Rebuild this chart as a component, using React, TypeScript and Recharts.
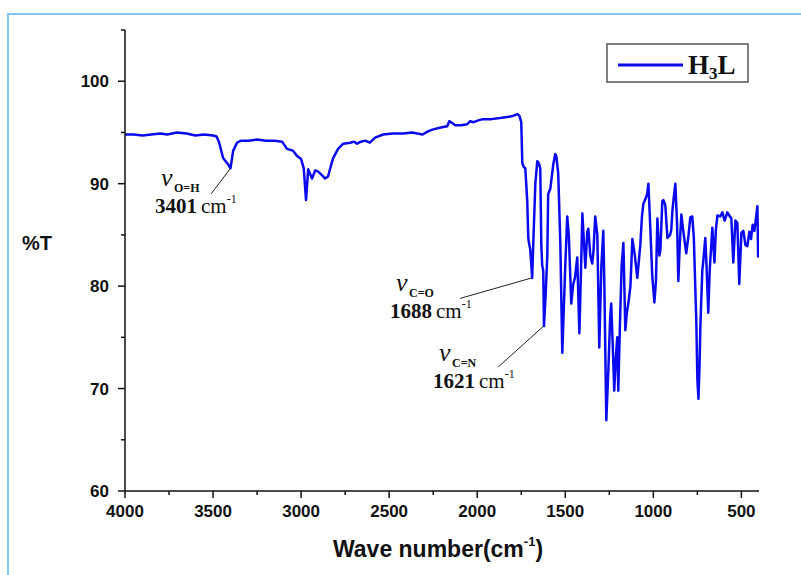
import React from 'react'
import { LineChart, Line, XAxis, YAxis, ReferenceLine } from 'recharts'

// FT-IR spectrum of H3L
const wnHigh = [4000, 3950, 3900, 3850, 3800, 3760, 3705, 3650, 3600, 3550, 3500, 3480, 3465, 3443, 3415, 3401, 3386, 3364, 3340, 3300, 3250, 3200, 3150, 3108]
const tHigh = [94.8, 94.8, 94.7, 94.8, 94.9, 94.8, 95.0, 94.9, 94.7, 94.8, 94.7, 94.6, 94.0, 92.5, 91.9, 91.5, 93.2, 94.0, 94.2, 94.2, 94.3, 94.2, 94.2, 94.1]

const wnCH = [3080, 3060, 3045, 3023, 3000, 2985, 2972, 2960, 2945, 2938, 2920, 2905, 2892, 2875, 2864, 2847, 2830, 2818, 2790, 2761, 2720, 2700, 2682, 2660, 2636, 2610, 2580]
const tCH = [93.4, 93.3, 93.2, 92.7, 92.4, 91.5, 88.4, 91.4, 90.8, 90.5, 91.3, 91.2, 91.0, 90.7, 90.5, 90.7, 91.8, 92.5, 93.4, 93.9, 94.0, 94.1, 93.9, 94.1, 94.2, 94.0, 94.5]

const wnFlat = [2534, 2480, 2420, 2370, 2341, 2310, 2280, 2250, 2200, 2170, 2159, 2140, 2125, 2090, 2057, 2040, 2020, 1990, 1966, 1920, 1870, 1830, 1800, 1784, 1773, 1760]
const tFlat = [94.8, 94.9, 94.9, 95.0, 94.9, 94.8, 95.1, 95.3, 95.5, 95.6, 96.1, 95.9, 95.7, 95.7, 95.8, 96.1, 96.0, 96.2, 96.3, 96.3, 96.4, 96.5, 96.6, 96.7, 96.8, 96.6]

const wnCO = [1750, 1744, 1735, 1727, 1716, 1710, 1705, 1699, 1688, 1680, 1670, 1659, 1650, 1642, 1636, 1631, 1625, 1621, 1612, 1602, 1597, 1585, 1568, 1557, 1551, 1540, 1528, 1517, 1508, 1500, 1489, 1480, 1466, 1455, 1445, 1432, 1420, 1410, 1403]
const tCO = [96.0, 92.0, 91.6, 91.5, 88.3, 84.7, 84.1, 83.6, 80.8, 85.0, 90.0, 92.2, 92.0, 91.5, 84.0, 82.0, 81.5, 76.1, 79.0, 83.0, 89.0, 89.5, 91.9, 92.9, 92.7, 91.0, 84.1, 73.5, 78.0, 82.0, 86.8, 85.0, 78.3, 80.2, 80.8, 82.8, 75.4, 82.0, 87.1]

const wnMid = [1386, 1375, 1369, 1358, 1347, 1340, 1330, 1318, 1307, 1295, 1284, 1278, 1267, 1255, 1245, 1239, 1230, 1222, 1213, 1205, 1199, 1190, 1180, 1170, 1159, 1150, 1142, 1130, 1119, 1105, 1091, 1074, 1065, 1057, 1045, 1035, 1028, 1017, 1006, 994]
const tMid = [81.8, 85.3, 85.6, 83.0, 82.2, 83.4, 86.8, 85.0, 74.0, 82.0, 85.4, 80.0, 66.9, 72.0, 77.0, 78.3, 74.0, 69.8, 73.0, 75.0, 69.8, 76.0, 82.0, 84.2, 75.7, 77.5, 78.3, 80.0, 84.6, 83.0, 80.8, 84.0, 86.7, 88.0, 88.5, 89.0, 90.0, 85.6, 81.0, 78.4]

const wnLow = [985, 977, 966, 960, 949, 943, 932, 920, 905, 898, 892, 885, 875, 865, 858, 850, 841, 830, 813, 800, 790, 779, 770, 762, 756, 750, 744, 738, 733, 722, 716, 705, 698, 688, 680, 665, 653, 645, 636, 620, 608, 595, 580, 565, 557, 546, 534, 523, 512, 500, 489, 477, 466, 455, 445, 436, 426, 418, 409, 405]
const tLow = [80.5, 86.6, 83.0, 83.5, 88.3, 88.4, 87.9, 84.7, 85.0, 85.5, 87.3, 88.5, 90.0, 86.0, 80.5, 84.0, 87.0, 85.4, 83.2, 85.0, 86.7, 86.8, 84.7, 80.0, 76.6, 71.0, 69.0, 72.0, 76.0, 81.5, 82.5, 84.7, 82.0, 77.4, 81.5, 85.7, 82.3, 85.5, 86.9, 86.8, 87.2, 86.4, 87.2, 86.8, 86.6, 82.3, 86.4, 86.2, 80.2, 85.2, 85.4, 84.0, 83.9, 85.3, 84.6, 86.0, 85.4, 86.5, 87.8, 82.8]

const xTicks = [4000, 3750, 3500, 3250, 3000, 2750, 2500, 2250, 2000, 1750, 1500, 1250, 1000, 750, 500]
const yTicks = [60, 65, 70, 75, 80, 85, 90, 95, 100, 105]

const segments: [number[], number[]][] = [
  [wnHigh, tHigh],
  [wnCH, tCH],
  [wnFlat, tFlat],
  [wnCO, tCO],
  [wnMid, tMid],
  [wnLow, tLow],
]
const spectrum = segments.flatMap(([w, t]) => w.map((v, i) => ({ wn: v, t: t[i] })))

const sans = '"Liberation Sans", Arial, sans-serif'
const serif = '"Liberation Serif", "Times New Roman", serif'

const XTick = (props: any) => {
  const { x, y, payload } = props
  const major = payload.value % 500 === 0
  return (
    <g>
      <line x1={x} y1={y} x2={x} y2={y + (major ? 7 : 4)} stroke="#111" strokeWidth={1.5} />
      {major && (
        <text x={x} y={y + 26} textAnchor="middle" fontFamily={sans} fontWeight="bold" fontSize={17} fill="#111">
          {payload.value}
        </text>
      )}
    </g>
  )
}

const YTick = (props: any) => {
  const { x, y, payload } = props
  const major = payload.value % 10 === 0
  return (
    <g>
      <line x1={x - (major ? 7 : 4)} y1={y} x2={x} y2={y} stroke="#111" strokeWidth={1.5} />
      {major && payload.value <= 100 && (
        <text x={x - 16} y={y + 6} textAnchor="end" fontFamily={sans} fontWeight="bold" fontSize={17} fill="#111">
          {payload.value}
        </text>
      )}
    </g>
  )
}

const Band = ({ x, y, sub, wn }: { x: number; y: number; sub: string; wn: string }) => (
  <g fill="#111">
    <text x={x + 6} y={y} fontFamily={serif} fontStyle="italic" fontSize={26}>ν</text>
    <text x={x + 19} y={y + 6} fontFamily={serif} fontWeight="bold" fontSize={12}>{sub}</text>
    <text x={x} y={y + 27} fontFamily={serif} fontSize={21}>
      <tspan fontWeight="bold">{wn}</tspan>
      <tspan dx={4}>cm</tspan>
      <tspan fontSize={12} dy={-10}>-1</tspan>
    </text>
  </g>
)

export default function App() {
  return (
    <div style={{ position: 'absolute', left: 0, top: 0, width: 801, height: 575, background: '#fff', overflow: 'hidden' }}>
      <div style={{ position: 'absolute', left: 7, top: 13, width: 820, height: 600, borderLeft: '2px solid #86c5e8', borderTop: '2px solid #86c5e8' }} />
      <LineChart width={801} height={575} data={spectrum} margin={{ top: 30, right: 42, bottom: 44, left: 65 }}>
        <XAxis
          dataKey="wn"
          type="number"
          domain={[400, 4000]}
          reversed
          ticks={xTicks}
          interval={0}
          tick={<XTick />}
          tickLine={false}
          tickSize={0}
          tickMargin={0}
          height={40}
          axisLine={{ stroke: '#111', strokeWidth: 1.5 }}
          allowDataOverflow
        />
        <YAxis
          type="number"
          domain={[60, 105]}
          ticks={yTicks}
          interval={0}
          tick={<YTick />}
          tickLine={false}
          tickSize={0}
          tickMargin={0}
          width={60}
          axisLine={{ stroke: '#111', strokeWidth: 1.5 }}
          allowDataOverflow
        />
        <ReferenceLine segment={[{ x: 3511, y: 89.0 }, { x: 3401, y: 91.5 }]} stroke="#222" strokeWidth={1} ifOverflow="visible" />
        <ReferenceLine segment={[{ x: 2097, y: 78.8 }, { x: 1690, y: 80.8 }]} stroke="#222" strokeWidth={1} ifOverflow="visible" />
        <ReferenceLine segment={[{ x: 1881, y: 72.1 }, { x: 1623, y: 76.1 }]} stroke="#222" strokeWidth={1} ifOverflow="visible" />
        <Line dataKey="t" stroke="#0a0aee" strokeWidth={2.5} dot={false} isAnimationActive={false} strokeLinejoin="round" />
      </LineChart>
      <svg width={801} height={575} style={{ position: 'absolute', left: 0, top: 0, pointerEvents: 'none' }}>
        <text x={22} y={250} fontFamily={sans} fontWeight="bold" fontSize={20} fill="#111">%T</text>
        <text x={438} y={557} textAnchor="middle" fontFamily={sans} fontWeight="bold" fontSize={23} fill="#111">
          Wave number(cm<tspan fontSize={13} dy={-11}>-1</tspan><tspan dy={11}>)</tspan>
        </text>
        <Band x={155} y={186} sub="O=H" wn="3401" />
        <Band x={390} y={291} sub="C=O" wn="1688" />
        <Band x={433} y={361} sub="C=N" wn="1621" />
        <rect x={607} y={44} width={141} height={38} fill="#fff" stroke="#555" strokeWidth={1.5} />
        <line x1={618} y1={65} x2={683} y2={65} stroke="#0a0aee" strokeWidth={3} />
        <text x={688} y={74} fontFamily={serif} fontWeight="bold" fontSize={27} fill="#111">
          H<tspan fontSize={17} dy={5}>3</tspan><tspan dy={-5}>L</tspan>
        </text>
      </svg>
    </div>
  )
}
